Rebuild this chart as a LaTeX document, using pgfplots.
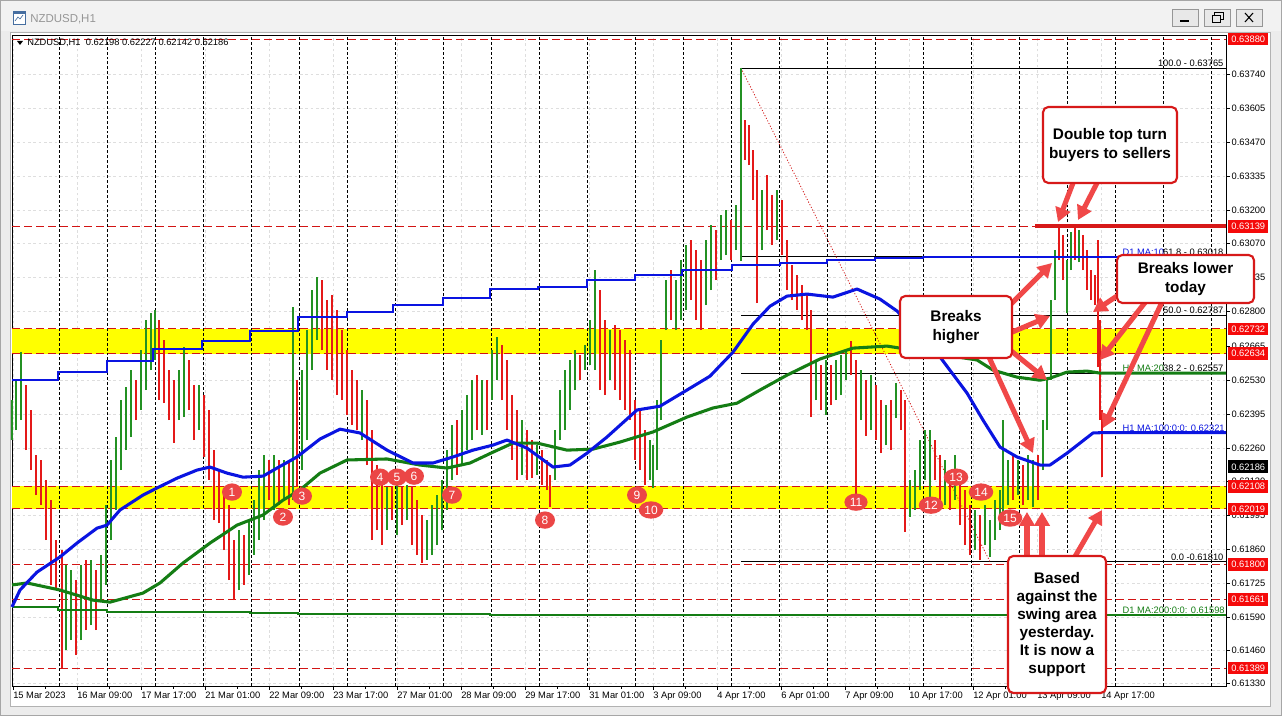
\documentclass[border=0pt]{standalone}
\usepackage{fontspec}
\setmainfont{Liberation Sans}
\usepackage{pgfplots}
\usepackage{pgfplotstable}
\pgfplotsset{compat=1.18}
\usetikzlibrary{arrows.meta,shapes.geometric}

\definecolor{winbg}{RGB}{236,236,236}
\definecolor{titlebg}{RGB}{242,242,242}
\definecolor{titlegray}{RGB}{150,150,150}
\definecolor{iconblue}{RGB}{70,110,160}
\definecolor{btnbg}{RGB}{232,232,232}
\definecolor{btnedge}{RGB}{150,150,150}
\definecolor{lvlred}{RGB}{210,20,20}
\definecolor{band}{RGB}{255,255,0}
\definecolor{maBlue}{RGB}{10,20,225}
\definecolor{maGreen}{RGB}{20,125,20}
\definecolor{note}{RGB}{240,72,72}
\definecolor{noteEdge}{RGB}{215,25,25}
\definecolor{numred}{RGB}{235,70,70}
\definecolor{tagred}{RGB}{245,10,10}

\newcommand{\sm}{\fontsize{7}{8.4}\selectfont}

% H1 bars: slot, low, high, up(1)/down(0)
\pgfplotstableread{
x lo hi c
12 0.62292 0.62450 1
16 0.62331 0.62529 1
21 0.62371 0.62640 1
26 0.62252 0.62510 0
31 0.62173 0.62411 0
36 0.62074 0.62232 0
41 0.62034 0.62213 0
46 0.61896 0.62133 0
51 0.61718 0.62054 0
56 0.61698 0.61896 0
62 0.61389 0.61856 0
66 0.61460 0.61797 1
71 0.61500 0.61777 1
76 0.61440 0.61737 0
81 0.61500 0.61797 1
86 0.61539 0.61817 0
91 0.61559 0.61817 1
96 0.61539 0.61777 0
101 0.61658 0.61836 1
106 0.61718 0.62034 1
111 0.61896 0.62213 1
116 0.62015 0.62304 1
121 0.62173 0.62450 1
126 0.62252 0.62502 1
131 0.62304 0.62569 1
136 0.62371 0.62529 0
141 0.62411 0.62648 1
146 0.62490 0.62767 1
151 0.62569 0.62795 1
155 0.62609 0.62807 1
159 0.62450 0.62767 0
164 0.62438 0.62688 0
169 0.62371 0.62569 0
174 0.62280 0.62529 0
179 0.62371 0.62569 1
184 0.62383 0.62660 1
189 0.62411 0.62609 0
194 0.62292 0.62510 0
199 0.62331 0.62510 1
204 0.62225 0.62470 0
209 0.62133 0.62411 0
214 0.61975 0.62252 0
219 0.61963 0.62173 0
224 0.61856 0.62094 0
229 0.61737 0.62034 0
234 0.61658 0.61896 0
239 0.61698 0.61935 1
244 0.61718 0.61916 0
249 0.61757 0.61975 1
254 0.61836 0.62054 1
259 0.61896 0.62173 1
264 0.61975 0.62232 1
269 0.62054 0.62213 0
274 0.62015 0.62232 1
279 0.62034 0.62213 0
284 0.62054 0.62213 1
289 0.62034 0.62213 0
293 0.62054 0.62819 1
297 0.62106 0.62529 0
302 0.62173 0.62569 1
307 0.62292 0.62727 1
312 0.62569 0.62886 1
317 0.62688 0.62937 1
322 0.62648 0.62925 0
327 0.62569 0.62846 0
332 0.62529 0.62866 0
337 0.62470 0.62807 0
342 0.62450 0.62727 0
347 0.62391 0.62648 0
352 0.62351 0.62569 0
357 0.62331 0.62529 0
362 0.62292 0.62490 1
367 0.62193 0.62450 0
372 0.61896 0.62331 0
377 0.61935 0.62193 0
382 0.61876 0.62114 0
387 0.61935 0.62106 1
392 0.61975 0.62110 0
397 0.61916 0.62114 1
402 0.61955 0.62106 0
407 0.61975 0.62114 1
412 0.61876 0.62110 0
417 0.61836 0.62054 0
422 0.61805 0.61995 0
427 0.61817 0.61975 1
432 0.61836 0.62034 1
437 0.61876 0.62074 1
442 0.61935 0.62133 1
447 0.62015 0.62252 1
452 0.62133 0.62351 1
457 0.62153 0.62371 0
462 0.62193 0.62411 1
467 0.62252 0.62470 1
472 0.62292 0.62529 1
477 0.62331 0.62549 0
482 0.62312 0.62529 1
487 0.62331 0.62529 0
492 0.62450 0.62648 1
497 0.62529 0.62700 1
502 0.62450 0.62668 0
507 0.62331 0.62609 0
512 0.62213 0.62470 0
517 0.62133 0.62411 0
522 0.62153 0.62371 1
527 0.62133 0.62331 0
532 0.62141 0.62292 0
537 0.62153 0.62272 1
542 0.62114 0.62252 0
547 0.62094 0.62213 0
550 0.62027 0.62153 0
555 0.62133 0.62331 1
560 0.62292 0.62490 1
565 0.62331 0.62569 1
570 0.62411 0.62609 1
575 0.62490 0.62648 1
580 0.62529 0.62628 0
585 0.62569 0.62668 1
590 0.62589 0.62767 1
595 0.62569 0.62965 1
600 0.62490 0.62886 0
605 0.62470 0.62767 0
610 0.62529 0.62727 1
615 0.62490 0.62747 0
620 0.62450 0.62727 0
625 0.62411 0.62688 0
630 0.62371 0.62648 0
635 0.62213 0.62450 0
640 0.62173 0.62411 0
645 0.62114 0.62331 0
650 0.62133 0.62292 1
653 0.62102 0.62272 1
657 0.62173 0.62450 1
661 0.62371 0.62688 1
666 0.62727 0.62925 1
671 0.62767 0.62965 0
676 0.62727 0.62925 1
681 0.62767 0.63005 1
686 0.62807 0.63064 1
691 0.62846 0.63084 0
696 0.62767 0.63044 0
701 0.62727 0.63005 0
706 0.62826 0.63084 1
711 0.62886 0.63143 1
716 0.62925 0.63123 0
721 0.63005 0.63183 1
726 0.63024 0.63203 1
731 0.63005 0.63163 0
736 0.63044 0.63222 1
741 0.63001 0.63765 1
745 0.63401 0.63559 0
749 0.63381 0.63539 0
753 0.63242 0.63440 0
757 0.62834 0.63361 0
762 0.63044 0.63282 1
767 0.63123 0.63341 0
772 0.63064 0.63262 0
777 0.63084 0.63282 1
782 0.63024 0.63242 0
787 0.62886 0.63084 0
792 0.62846 0.62985 0
797 0.62807 0.62945 0
802 0.62767 0.62906 0
807 0.62727 0.62866 0
811 0.62383 0.62807 0
816 0.62450 0.62609 1
821 0.62411 0.62589 0
826 0.62391 0.62609 1
831 0.62430 0.62589 0
836 0.62450 0.62609 1
841 0.62470 0.62628 1
846 0.62529 0.62648 1
851 0.62549 0.62684 0
856 0.62078 0.62609 0
861 0.62371 0.62569 1
866 0.62308 0.62529 0
871 0.62331 0.62549 1
876 0.62292 0.62510 0
881 0.62240 0.62450 0
886 0.62272 0.62430 1
891 0.62252 0.62450 0
896 0.62379 0.62518 1
901 0.62331 0.62490 0
905 0.61928 0.62450 0
910 0.61987 0.62133 1
915 0.62015 0.62173 1
920 0.62094 0.62292 1
925 0.62133 0.62331 1
930 0.62042 0.62331 1
935 0.62133 0.62292 0
940 0.62054 0.62232 0
945 0.62034 0.62213 1
950 0.62015 0.62173 0
955 0.62054 0.62232 1
960 0.61955 0.62133 0
965 0.61876 0.62094 0
970 0.61836 0.62034 0
975 0.61856 0.62015 1
980 0.61817 0.61995 0
985 0.61876 0.62034 1
990 0.61829 0.61975 1
995 0.61896 0.62054 1
1000 0.61935 0.62094 1
1003 0.61975 0.62371 1
1008 0.62034 0.62213 1
1013 0.62054 0.62232 0
1018 0.62074 0.62213 1
1023 0.62034 0.62193 0
1028 0.62054 0.62232 1
1033 0.62027 0.62213 1
1038 0.62054 0.62232 0
1043 0.62173 0.62371 1
1047 0.62331 0.62529 1
1051 0.62529 0.62846 1
1055 0.62846 0.63044 1
1059 0.63005 0.63135 0
1063 0.62925 0.63104 0
1067 0.62795 0.63005 1
1071 0.62965 0.63116 1
1075 0.63005 0.63131 0
1079 0.62997 0.63123 1
1083 0.62965 0.63104 0
1087 0.62886 0.63044 0
1091 0.62846 0.62965 0
1095 0.62826 0.62945 0
1098 0.62581 0.63084 0
1100 0.62371 0.62767 0
1102 0.62145 0.62411 0
}\bars

% H1 MA 100
\pgfplotstableread{
x y
12 0.61631
20 0.61698
37 0.61769
60 0.61829
77 0.61884
97 0.61943
107 0.61955
120 0.62015
143 0.62074
157 0.62102
177 0.62141
197 0.62173
210 0.62185
227 0.62161
243 0.62145
263 0.62149
277 0.62181
297 0.62225
320 0.62296
340 0.62335
360 0.62320
387 0.62252
413 0.62201
433 0.62201
453 0.62225
473 0.62252
493 0.62272
507 0.62292
527 0.62260
553 0.62185
570 0.62193
587 0.62240
607 0.62304
637 0.62411
660 0.62426
687 0.62490
710 0.62545
733 0.62640
753 0.62751
770 0.62822
787 0.62862
807 0.62870
833 0.62858
857 0.62890
880 0.62850
897 0.62803
940 0.62621
967 0.62478
983 0.62371
1000 0.62264
1017 0.62225
1040 0.62193
1050 0.62193
1067 0.62240
1093 0.62320
1100 0.62321
1226 0.62321
}\hmaA

% H1 MA 200
\pgfplotstableread{
x y
12 0.61718
27 0.61726
60 0.61698
93 0.61658
110 0.61650
143 0.61686
160 0.61726
183 0.61805
210 0.61884
237 0.61955
263 0.61995
283 0.62054
300 0.62094
320 0.62161
347 0.62213
387 0.62217
420 0.62193
447 0.62181
470 0.62201
493 0.62244
513 0.62280
537 0.62280
567 0.62252
593 0.62256
620 0.62284
653 0.62324
687 0.62383
713 0.62419
737 0.62438
760 0.62490
787 0.62549
820 0.62613
853 0.62656
887 0.62664
900 0.62656
977 0.62609
993 0.62569
1017 0.62541
1040 0.62529
1050 0.62537
1067 0.62561
1087 0.62565
1100 0.62557
1226 0.62557
}\hmaB

% D1 MA 100 (steps)
\pgfplotstableread{
x y
12 0.62529
58 0.62561
107 0.62605
153 0.62652
202 0.62684
250 0.62723
298 0.62779
347 0.62799
393 0.62826
443 0.62854
490 0.62890
538 0.62898
587 0.62925
635 0.62945
682 0.62965
732 0.62985
780 0.62993
827 0.63005
875 0.63012
923 0.63017
1226 0.63017
}\dmaA

% D1 MA 200 (steps)
\pgfplotstableread{
x y
12 0.61631
58 0.61619
107 0.61611
250 0.61607
298 0.61603
490 0.61600
732 0.61599
875 0.61598
1226 0.61598
}\dmaB

\tikzset{
  numc/.style={ellipse, fill=numred, text=white, font=\fontsize{9}{10}\selectfont,
    minimum width=15pt, minimum height=13pt, inner xsep=1.5pt, inner ysep=0pt},
  tag/.style={anchor=west, fill=tagred, text=white, font=\sm, minimum width=30pt,
    minimum height=9.6pt, inner sep=0pt},
  note/.style={draw=noteEdge, line width=1.6pt, rounded corners=4pt, fill=white,
    align=center, inner sep=0pt},
  arr/.style={draw=note, line width=3.8pt, -{Triangle[length=10.5pt,width=11.5pt]}},
  sepl/.style={black, line width=0.6pt, dash pattern=on 2.2pt off 1.5pt},
  lvl/.style={lvlred, line width=0.75pt, dash pattern=on 6pt off 3pt},
  fib/.style={black, line width=0.6pt},
}

\begin{document}
\begin{tikzpicture}
% window frame
\begin{scope}[x=0.75pt,y=-0.75pt,shift={(0pt,537pt)}]
  \fill[winbg] (0,0) rectangle (1282,716);
  \fill[titlebg] (1,1) rectangle (1281,31);
  \draw[gray!70] (0.5,0.5) rectangle (1281.5,715.5);
  \draw[draw=iconblue, fill=white, line width=0.6pt] (13,11) rectangle (25,24);
  \fill[iconblue] (13,11) rectangle (25,14);
  \draw[iconblue, line width=0.5pt] (15,21) -- (18,17) -- (20,19) -- (23,15);
  \node[anchor=west, text=titlegray, font=\fontsize{8.6}{10}\selectfont, inner sep=0pt] at (30,19) {NZDUSD,H1};
  \foreach \bx in {1172,1204,1236} {\draw[btnedge, fill=btnbg] (\bx,9) rectangle ++(26,17);}
  \draw[black, line width=1pt] (1180,21) -- (1189,21);
  \draw[black, line width=0.6pt] (1212,15) rectangle (1220,22);
  \draw[black, line width=0.6pt] (1214,15) -- (1214,12) -- (1223,12) -- (1223,19) -- (1220,19);
  \draw[black, line width=0.8pt] (1245,13) -- (1253,22) (1245,22) -- (1253,13);
  \fill[white] (10,32) rectangle (1270,706);
  \draw[gray!60] (10,32) rectangle (1270,706);
\end{scope}

\begin{axis}[
  at={(9pt,22.5pt)}, anchor=south west,
  scale only axis, width=910.5pt, height=488.25pt,
  xmin=12, xmax=1226, ymin=0.61318, ymax=0.63896,
  clip=false,
  axis line style={black, line width=0.6pt},
  xtick={13,77,...,1101},
  xticklabels={15 Mar 2023, 16 Mar 09:00, 17 Mar 17:00, 21 Mar 01:00, 22 Mar 09:00,
    23 Mar 17:00, 27 Mar 01:00, 28 Mar 09:00, 29 Mar 17:00, 31 Mar 01:00, 3 Apr 09:00,
    4 Apr 17:00, 6 Apr 01:00, 7 Apr 09:00, 10 Apr 17:00, 12 Apr 01:00, 13 Apr 09:00,
    14 Apr 17:00},
  minor x tick num=1,
  xticklabel style={anchor=north west, font=\sm, inner xsep=0pt, inner ysep=1.5pt},
  ytick={0.61330,0.61460,0.61590,0.61725,0.61860,0.61995,0.62130,0.62260,0.62395,
    0.62530,0.62665,0.62800,0.62935,0.63070,0.63200,0.63335,0.63470,0.63605,0.63740},
  yticklabels={0.61330,0.61460,0.61590,0.61725,0.61860,0.61995,0.62130,0.62260,0.62395,
    0.62530,0.62665,0.62800,0.62935,0.63070,0.63200,0.63335,0.63470,0.63605,0.63740},
  yticklabel style={font=\sm, anchor=west, inner xsep=1pt},
  scaled y ticks=false,
  xtick pos=left, ytick pos=right, yticklabel pos=right,
  tick align=outside, major tick length=3pt, minor tick length=2pt,
  tick style={black, line width=0.5pt},
  xmajorgrids, ymajorgrids,
  major grid style={black!13, dash pattern=on 2pt off 2pt, line width=0.5pt},
  colormap={updown}{rgb255=(228,25,25) rgb255=(35,145,35)},
  point meta min=0, point meta max=1,
]
  % support / resistance bands
  \fill[band] (axis cs:12,0.62634) rectangle (axis cs:1226,0.62732);
  \fill[band] (axis cs:12,0.62019) rectangle (axis cs:1226,0.62108);
  % day separators
  \pgfplotsinvokeforeach{59.3,107.3,155.3,203.3,251.3,299.3,347.3,395.3,443.3,491.3,
    539.3,587.3,635.3,683.3,731.3,779.3,827.3,875.3,923.3,971.3,1019.3,1067.3,1115.3,
    1163.3,1211.3}{\draw[sepl] (axis cs:#1,0.61318) -- (axis cs:#1,0.63896);}
  % horizontal levels
  \addplot[lvl] coordinates {(12,0.63880) (1226,0.63880)};
  \addplot[lvl] coordinates {(12,0.63139) (1226,0.63139)};
  \addplot[lvl] coordinates {(12,0.62732) (1226,0.62732)};
  \addplot[lvl] coordinates {(12,0.62634) (1226,0.62634)};
  \addplot[lvl] coordinates {(12,0.62108) (1226,0.62108)};
  \addplot[lvl] coordinates {(12,0.62019) (1226,0.62019)};
  \addplot[lvl] coordinates {(12,0.61800) (1226,0.61800)};
  \addplot[lvl] coordinates {(12,0.61661) (1226,0.61661)};
  \addplot[lvl] coordinates {(12,0.61389) (1226,0.61389)};
  % fibonacci retracement
  \addplot[fib] coordinates {(741,0.63765) (1226,0.63765)};
  \addplot[fib] coordinates {(741,0.63018) (1226,0.63018)};
  \addplot[fib] coordinates {(741,0.62787) (1226,0.62787)};
  \addplot[fib] coordinates {(741,0.62557) (1226,0.62557)};
  \addplot[fib] coordinates {(741,0.61810) (1226,0.61810)};
  \addplot[lvlred, line width=0.6pt, dash pattern=on 0.8pt off 1.4pt] coordinates {(741,0.63765) (990,0.61810)};
  % H1 bars
  \addplot[quiver={u=0, v=\thisrow{hi}-\thisrow{lo}, colored}, point meta=\thisrow{c},
    line width=1.5pt] table[x=x, y=lo] {\bars};
  % moving averages
  \addplot[const plot, maGreen, line width=1.5pt] table[x=x, y=y] {\dmaB};
  \addplot[const plot, maBlue, line width=1.5pt] table[x=x, y=y] {\dmaA};
  \addplot[maGreen, line width=2.3pt, line join=round] table[x=x, y=y] {\hmaB};
  \addplot[maBlue, line width=2.3pt, line join=round] table[x=x, y=y] {\hmaA};
  % double top line
  \addplot[note, line width=3pt] coordinates {(1035,0.63139) (1226,0.63139)};
  % line labels
  \node[anchor=south east, font=\sm, inner sep=1pt] at (axis cs:1225,0.63765) {100.0 - 0.63765};
  \node[anchor=south west, font=\sm, text=maBlue, inner sep=1pt] at (axis cs:1121,0.63018) {D1 MA:10};
  \node[anchor=south east, font=\sm, inner sep=1pt] at (axis cs:1225,0.63018) {61.8 - 0.63018};
  \node[anchor=south east, font=\sm, inner sep=1pt] at (axis cs:1225,0.62787) {50.0 - 0.62787};
  \node[anchor=south west, font=\sm, text=maGreen, inner sep=1pt] at (axis cs:1121,0.62557) {H1 MA:20};
  \node[anchor=south east, font=\sm, inner sep=1pt] at (axis cs:1225,0.62557) {38.2 - 0.62557};
  \node[anchor=south west, font=\sm, text=maBlue, inner sep=1pt] at (axis cs:1121,0.62321) {H1 MA:100:0:0: 0.62321};
  \node[anchor=south east, font=\sm, inner sep=1pt] at (axis cs:1225,0.61810) {0.0 -0.61810};
  \node[anchor=south west, font=\sm, text=maGreen, inner sep=1pt] at (axis cs:1121,0.61598) {D1 MA:200:0:0: 0.61598};
  % swing tests
  \node[numc] at (axis cs:232,0.62086) {1};
  \node[numc] at (axis cs:283,0.61987) {2};
  \node[numc] at (axis cs:302,0.62070) {3};
  \node[numc] at (axis cs:380,0.62145) {4};
  \node[numc] at (axis cs:397,0.62145) {5};
  \node[numc] at (axis cs:414,0.62149) {6};
  \node[numc] at (axis cs:452,0.62074) {7};
  \node[numc] at (axis cs:545,0.61975) {8};
  \node[numc] at (axis cs:637,0.62074) {9};
  \node[numc] at (axis cs:651,0.62015) {10};
  \node[numc] at (axis cs:856,0.62046) {11};
  \node[numc] at (axis cs:931,0.62034) {12};
  \node[numc] at (axis cs:956,0.62145) {13};
  \node[numc] at (axis cs:981,0.62086) {14};
  \node[numc] at (axis cs:1010,0.61983) {15};
  % price tag anchors
  \coordinate (t1) at (axis cs:1226,0.63880);
  \coordinate (t2) at (axis cs:1226,0.63139);
  \coordinate (t3) at (axis cs:1226,0.62732);
  \coordinate (t4) at (axis cs:1226,0.62634);
  \coordinate (t5) at (axis cs:1226,0.62108);
  \coordinate (t6) at (axis cs:1226,0.62019);
  \coordinate (t7) at (axis cs:1226,0.61800);
  \coordinate (t8) at (axis cs:1226,0.61661);
  \coordinate (t9) at (axis cs:1226,0.61389);
  \coordinate (tc) at (axis cs:1226,0.62186);
\end{axis}

% price tags
\node[tag] at ([xshift=1.5pt]t1) {0.63880};
\node[tag] at ([xshift=1.5pt]t2) {0.63139};
\node[tag] at ([xshift=1.5pt]t3) {0.62732};
\node[tag] at ([xshift=1.5pt]t4) {0.62634};
\node[tag] at ([xshift=1.5pt]t5) {0.62108};
\node[tag] at ([xshift=1.5pt]t6) {0.62019};
\node[tag] at ([xshift=1.5pt]t7) {0.61800};
\node[tag] at ([xshift=1.5pt]t8) {0.61661};
\node[tag] at ([xshift=1.5pt]t9) {0.61389};
\node[tag, fill=black] at ([xshift=1.5pt]tc) {0.62186};

% annotations
\begin{scope}[x=0.75pt,y=-0.75pt,shift={(0pt,537pt)}]
  \fill[black] (17,41) -- (23,41) -- (20,45) -- cycle;
  \node[anchor=west, font=\sm, inner sep=0pt] at (27,43) {NZDUSD,H1\ \ 0.62198 0.62227 0.62142 0.62186};
  \draw[arr] (1073,183) -- (1058,222);
  \draw[arr] (1097,183) -- (1078,220);
  \draw[arr] (1010,305) -- (1052,263);
  \draw[arr] (1010,333) -- (1050,316);
  \draw[arr] (1010,350) -- (1047,380);
  \draw[arr] (988,355) -- (1033,453);
  \draw[arr] (1120,294) -- (1093,312);
  \draw[arr] (1147,300) -- (1100,360);
  \draw[arr] (1163,300) -- (1103,428);
  \draw[arr] (1027,560) -- (1027,512);
  \draw[arr] (1042,560) -- (1042,512);
  \draw[arr] (1073,560) -- (1102,510);
  \node[note, minimum width=100.5pt, minimum height=57pt, font=\fontsize{11.5}{14}\selectfont\bfseries] at (1110,145) {Double top turn\\buyers to sellers};
  \node[note, minimum width=102.75pt, minimum height=36pt, font=\fontsize{11.5}{14}\selectfont\bfseries] at (1185.5,279) {Breaks lower\\today};
  \node[note, minimum width=84pt, minimum height=46.5pt, font=\fontsize{11.5}{14}\selectfont\bfseries] at (956,327) {Breaks\\higher};
  \node[note, minimum width=73.5pt, minimum height=102.75pt, font=\fontsize{11.5}{13.5}\selectfont\bfseries] at (1057,624.5) {Based\\against the\\swing area\\yesterday.\\It is now a\\support};
\end{scope}
\end{tikzpicture}
\end{document}
